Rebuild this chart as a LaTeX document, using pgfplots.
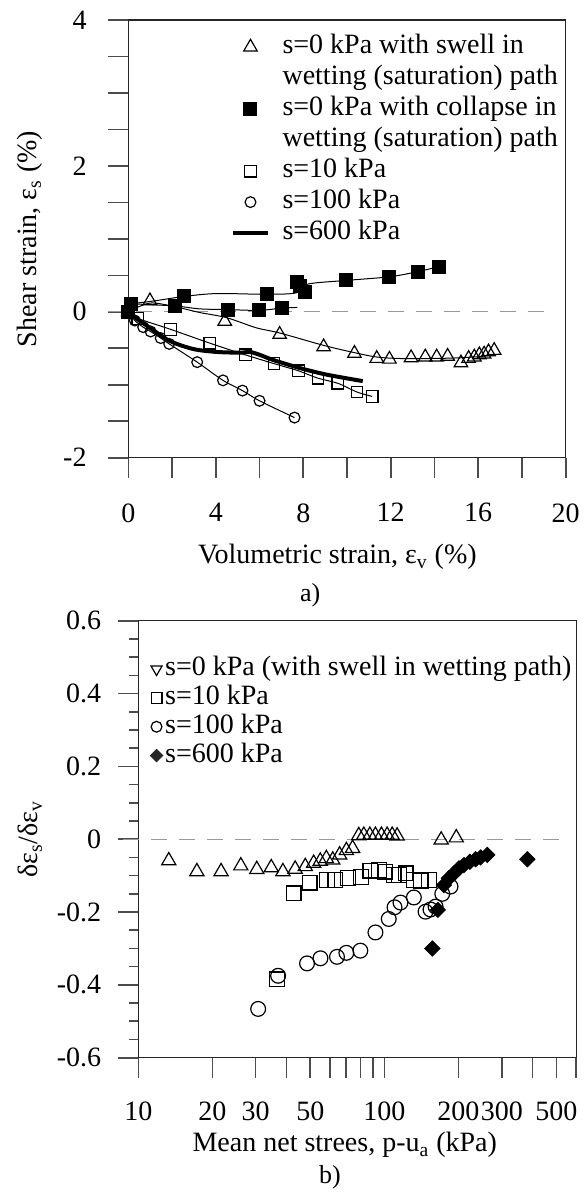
\documentclass[border=0pt]{standalone}
\usepackage{fontspec}
\setmainfont{Liberation Serif}
\usepackage{pgfplots}
\usepackage{pgfplotstable}
\pgfplotsset{compat=1.18}

% ---------- top chart data ----------
\pgfplotstableread{
x y
0 0
0.99 0.15
4.41 -0.13
6.92 -0.31
8.93 -0.48
10.34 -0.57
11.36 -0.64
11.94 -0.65
12.93 -0.63
13.58 -0.62
14.10 -0.62
14.60 -0.61
15.21 -0.70
15.56 -0.64
15.82 -0.62
16.05 -0.59
16.27 -0.58
16.47 -0.55
16.73 -0.53
}\swell
\pgfplotstableread{
x y
0 0
0.99 0.12
2.13 0.07
3.27 -0.01
4.49 -0.08
5.86 -0.22
6.92 -0.29
8.93 -0.46
10.34 -0.56
11.36 -0.62
12.40 -0.64
13.92 -0.64
15.21 -0.63
16.20 -0.61
16.96 -0.58
}\swellfit
\pgfplotstableread{
x y
0 0
0.11 0.11
2.13 0.08
2.54 0.21
4.56 0.03
5.98 0.02
6.34 0.24
7.03 0.05
7.73 0.41
7.83 0.35
8.09 0.27
9.96 0.43
11.94 0.48
13.23 0.55
14.22 0.62
}\collapse
\pgfplotstableread{
x y
0.11 0.11
1.20 0.15
2.54 0.21
4.03 0.25
6.34 0.24
7.68 0.26
8.21 0.38
9.96 0.43
11.94 0.48
13.23 0.55
14.22 0.62
}\collapsefitA
\pgfplotstableread{
x y
0.11 0.11
2.13 0.08
3.27 0.04
4.56 0.03
5.98 0.02
7.03 0.05
7.73 0.06
}\collapsefitB
\pgfplotstableread{
x y
0 0
0.43 -0.09
1.93 -0.24
3.73 -0.43
5.35 -0.59
6.66 -0.71
7.79 -0.81
8.67 -0.91
9.58 -0.98
10.46 -1.10
11.15 -1.16
}\sten
\pgfplotstableread{
x y
0 0
0.30 -0.12
0.68 -0.21
1.02 -0.27
1.48 -0.36
1.87 -0.44
3.15 -0.69
4.33 -0.94
5.22 -1.08
6.00 -1.22
7.60 -1.45
}\shundred
\pgfplotstableread{
x y
0 -0.01
0.99 -0.22
1.90 -0.40
2.97 -0.51
4.03 -0.55
5.10 -0.56
5.55 -0.55
6.01 -0.59
6.62 -0.66
7.83 -0.77
9.05 -0.86
10.72 -0.95
}\ssixhundred

% ---------- bottom chart data ----------
\pgfplotstableread{
p r
13.3 -0.059
17.3 -0.089
21.7 -0.089
26.1 -0.073
30.3 -0.083
34.7 -0.078
38.7 -0.089
43.4 -0.082
47.7 -0.075
51.6 -0.066
54.9 -0.060
58.1 -0.053
61.7 -0.057
65.8 -0.043
70.1 -0.031
74.3 -0.025
78.7 0.010
82.5 0.011
87.3 0.011
92.0 0.011
97.3 0.011
102.6 0.011
107.6 0.011
112.7 0.009
170.2 -0.002
196 0.004
}\bswell
\pgfplotstableread{
p r
36.6 -0.385
42.8 -0.149
49.7 -0.119
58.5 -0.112
63.2 -0.112
71.2 -0.107
80.4 -0.103
87.8 -0.086
94.9 -0.085
101 -0.089
109 -0.098
114.5 -0.098
121.9 -0.094
131.8 -0.112
140.3 -0.114
151.7 -0.112
}\bten
\pgfplotstableread{
p r
30.7 -0.466
37.0 -0.375
48.5 -0.341
55.0 -0.327
64.2 -0.323
70.1 -0.312
79.9 -0.306
92.0 -0.256
104.2 -0.219
110 -0.187
116.3 -0.174
131.8 -0.160
147 -0.199
154 -0.193
161.5 -0.185
171.9 -0.150
185.8 -0.130
}\bhundred
\pgfplotstableread{
p r
156.7 -0.300
165 -0.194
174.6 -0.126
182.9 -0.107
191.7 -0.094
201 -0.080
210.6 -0.071
222.6 -0.062
235 -0.055
246 -0.050
262 -0.043
381.4 -0.055
}\bsix

\begin{document}
\fontsize{14}{16.8}\selectfont
\begin{tikzpicture}
\useasboundingbox (0pt,0pt) rectangle (293.5pt,-596pt);

% ================= a) =================
\begin{axis}[
  at={(64.15pt,-228.85pt)}, anchor=south west,
  scale only axis, width=218.7pt, height=218.85pt,
  xmin=0, xmax=20, ymin=-2, ymax=4,
  xtick={0,4,8,12,16,20}, minor xtick={2,6,10,14,18},
  ytick={-2,0,2,4}, minor ytick={-1.5,-1,-0.5,0.5,1,1.5,2.5,3,3.5},
  xtick pos=left, ytick pos=left,
  tick align=outside, major tick length=10pt, minor tick length=10pt,
  every tick/.style={black!70, line width=0.8pt},
  axis line style={black!85, line width=0.6pt},
  /pgf/number format/assume math mode=true,
  xticklabel style={yshift=-8pt},
  yticklabel style={xshift=-6pt},
  clip=false,
  xlabel={Volumetric strain, ε\textsubscript{v} (\%)},
  ylabel={Shear strain, ε\textsubscript{s} (\%)},
  every axis x label/.style={at={(axis description cs:0.478,-0.227)}, anchor=center},
  every axis y label/.style={at={(axis description cs:-0.225,0.5)}, rotate=90, anchor=center},
  legend cell align=left,
  legend style={at={(axis description cs:0.2348,0.9744)}, anchor=north west,
    draw=none, fill=none, inner sep=0pt, row sep=0pt, column sep=6.5pt,
    nodes={text height=11pt, text depth=4.5pt, inner sep=0pt}},
]
\addplot[gray!80, line width=0.6pt, dash pattern=on 8pt off 6pt, forget plot] coordinates {(-0.91,0) (19.36,0)};
% trend lines
\addplot[black, line width=0.5pt, smooth, forget plot] table {\swellfit};
\addplot[black, line width=0.5pt, smooth, forget plot] table {\collapsefitA};
\addplot[black, line width=0.5pt, smooth, forget plot] table {\collapsefitB};
\addplot[black, line width=0.5pt, smooth, forget plot] table {\sten};
\addplot[black, line width=0.5pt, smooth, forget plot] table {\shundred};
% markers
\addplot[only marks, mark=triangle, mark size=3.9pt, mark options={black, line width=0.6pt}] table {\swell};
\addlegendentry{s=0 kPa with swell in}
\addlegendimage{empty legend}
\addlegendentry{wetting (saturation) path}
\addplot[only marks, mark=square*, mark size=3.2pt, mark options={black, line width=0.6pt}] table {\collapse};
\addlegendentry{s=0 kPa with collapse in}
\addlegendimage{empty legend}
\addlegendentry{wetting (saturation) path}
\addplot[only marks, mark=square, mark size=2.9pt, mark options={black, line width=0.6pt}] table {\sten};
\addlegendentry{s=10 kPa}
\addplot[only marks, mark=o, mark size=2.7pt, mark options={black, line width=0.6pt}] table {\shundred};
\addlegendentry{s=100 kPa}
\addplot[black, line width=2pt, smooth, no marks] table {\ssixhundred};
\addlegendentry{s=600 kPa}
\node[font=\fontsize{13}{15}\selectfont] at (axis description cs:0.416,-0.3137) {a)};
\end{axis}

% ================= b) =================
\begin{axis}[
  at={(69.15pt,-528.85pt)}, anchor=south west,
  scale only axis, width=219.2pt, height=218.5pt,
  xmode=log, xmin=10, xmax=605, ymin=-0.6, ymax=0.6,
  xtick={10,20,30,40,50,60,70,80,90,100,200,300,400,500,600},
  xticklabels={10,20,30,,50,,,,,100,200,300,,500,},
  ytick={-0.6,-0.4,-0.2,0,0.2,0.4,0.6},
  yticklabels={-0.6,-0.4,-0.2,0,0.2,0.4,0.6},
  minor ytick={-0.55,-0.5,-0.45,-0.35,-0.3,-0.25,-0.15,-0.1,-0.05,0.05,0.1,0.15,0.25,0.3,0.35,0.45,0.5,0.55},
  xtick pos=left, ytick pos=left,
  tick align=outside, major tick length=10pt, minor tick length=4.5pt,
  every tick/.style={black!70, line width=0.8pt},
  axis line style={black!85, line width=0.6pt},
  /pgf/number format/assume math mode=true,
  xticklabel style={yshift=-7pt},
  yticklabel style={xshift=-3.7pt},
  clip=false,
  xlabel={Mean net strees, p-u\textsubscript{a} (kPa)},
  ylabel={δε\textsubscript{s}/δε\textsubscript{v}},
  every axis x label/.style={at={(axis description cs:0.471,-0.1998)}, anchor=center},
  every axis y label/.style={at={(axis description cs:-0.247,0.5)}, rotate=90, anchor=center},
  legend cell align=left,
  legend image code/.code={\draw[#1] plot coordinates {(0.15cm,0cm)};},
  legend style={at={(axis description cs:0.0265,0.923)}, anchor=north west,
    draw=none, fill=none, inner sep=0pt, row sep=0pt, column sep=1.2pt,
    nodes={text height=10.5pt, text depth=3.9pt, inner sep=0pt}},
]
\addplot[gray!80, line width=0.6pt, dash pattern=on 8pt off 6pt, forget plot] coordinates {(8.63,0) (541,0)};
% legend images (smaller than the plotted marks, as in the original)
\addlegendimage{only marks, mark=triangle, mark size=3.2pt, mark options={black, rotate=180, line width=0.6pt}}
\addlegendentry{s=0 kPa (with swell in wetting path)}
\addlegendimage{only marks, mark=square, mark size=2.7pt, mark options={black, line width=0.6pt}}
\addlegendentry{s=10 kPa}
\addlegendimage{only marks, mark=o, mark size=2.7pt, mark options={black, line width=0.6pt}}
\addlegendentry{s=100 kPa}
\addlegendimage{only marks, mark=square*, mark size=2.2pt, mark options={black!85, rotate=45, line width=0.4pt}}
\addlegendentry{s=600 kPa}
% data
\addplot[only marks, mark=triangle, mark size=4.1pt, mark options={black, line width=0.6pt}, forget plot] table {\bswell};
\addplot[only marks, mark=square, mark size=3.7pt, mark options={black, line width=0.6pt}, forget plot] table {\bten};
\addplot[only marks, mark=o, mark size=3.7pt, mark options={black, line width=0.6pt}, forget plot] table {\bhundred};
\addplot[only marks, mark=square*, mark size=2.7pt, mark options={black, rotate=45, line width=0.4pt}, forget plot] table {\bsix};
\node[font=\fontsize{13}{15}\selectfont] at (axis description cs:0.437,-0.273) {b)};
\end{axis}
\end{tikzpicture}
\end{document}
